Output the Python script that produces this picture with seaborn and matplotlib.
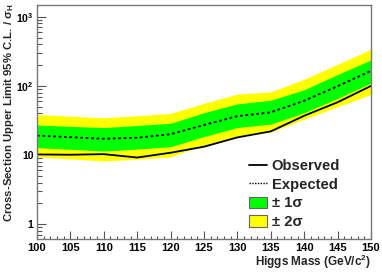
"""Higgs cross-section upper limit (95% C.L.) vs mass, Brazil-band plot."""

import matplotlib
matplotlib.use("Agg")
import matplotlib.pyplot as plt
import matplotlib.ticker as mticker
from matplotlib.lines import Line2D
from matplotlib.patches import Patch
import pandas as pd
import seaborn as sns

# values (cross-section / sigma_H)
mass = [100, 105, 110, 115, 120, 125, 130, 135, 140, 145, 150]
observed = [10.2, 10.1, 10.3, 9.2, 10.8, 13.2, 18.0, 22.0, 37.0, 58.0, 100.0]
expected = [19.1, 18.1, 17.2, 17.8, 20.0, 27.2, 36.5, 41.5, 61.0, 99.0, 165.0]
band1_lo = [12.8, 12.1, 11.4, 12.2, 13.2, 18.5, 25.0, 28.0, 41.0, 66.0, 110.0]
band1_hi = [27.2, 26.0, 24.9, 26.8, 28.8, 41.0, 55.0, 62.0, 88.0, 146.0, 238.0]
band2_lo = [9.4, 8.8, 8.2, 8.7, 9.4, 14.0, 18.5, 21.5, 33.0, 50.0, 75.0]
band2_hi = [38.5, 36.5, 34.5, 37.0, 40.0, 56.0, 76.0, 82.0, 125.0, 205.0, 340.0]

y_ticks = [1, 10, 100, 1000]
y_labels = ["1", "10", r"$10^{2}$", r"$10^{3}$"]

sns.set_theme(style="white")
plt.rcParams["font.family"] = ["Liberation Sans", "DejaVu Sans"]
plt.rcParams["font.weight"] = "bold"
plt.rcParams["mathtext.fontset"] = "custom"
plt.rcParams["mathtext.rm"] = "Liberation Sans:bold"
plt.rcParams["mathtext.it"] = "Liberation Sans:bold"
plt.rcParams["mathtext.default"] = "regular"

df = pd.DataFrame({"mass": mass, "observed": observed, "expected": expected})

fig = plt.figure(figsize=(3.82, 2.73), dpi=100)
ax = fig.add_axes([37 / 382, 34 / 273, 334 / 382, 234 / 273])

ax.fill_between(mass, band2_lo, band2_hi, color="#ffff00", lw=0)
ax.fill_between(mass, band1_lo, band1_hi, color="#00ff00", lw=0)
sns.lineplot(data=df, x="mass", y="expected", ax=ax, color="black",
             lw=1.3, linestyle=(0, (1.5, 1.5)))
sns.lineplot(data=df, x="mass", y="observed", ax=ax, color="black", lw=1.3)

ax.set_yscale("log")
ax.set_xlim(100, 150)
ax.set_ylim(0.61, 1480)
ax.set_xlabel("")
ax.set_ylabel("")

ax.xaxis.set_major_locator(mticker.MultipleLocator(5))
ax.xaxis.set_minor_locator(mticker.MultipleLocator(1))
ax.set_yticks(y_ticks)
ax.set_yticklabels(y_labels)
ax.yaxis.set_minor_locator(mticker.LogLocator(base=10, subs=range(2, 10)))
ax.yaxis.set_minor_formatter(mticker.NullFormatter())

ax.tick_params(axis="both", which="both", direction="in", colors="#555555",
               labelcolor="black", pad=3, width=0.8,
               bottom=True, left=True, top=False, right=False)
ax.tick_params(axis="x", which="major", length=5.5, labelsize=8)
ax.tick_params(axis="x", which="minor", length=2.5)
ax.tick_params(axis="y", which="major", length=6.5, labelsize=7.5, pad=2.5)
ax.tick_params(axis="y", which="minor", length=3.3)
for lab in ax.get_xticklabels() + ax.get_yticklabels():
    lab.set_fontweight("bold")

for sp in ax.spines.values():
    sp.set_color("#777777")
    sp.set_linewidth(1.0)

fig.text(2 / 382, 1 - 3 / 273, r"Cross-Section Upper Limit 95% C.L. / $\sigma_{H}$",
         rotation=90, ha="left", va="top", fontsize=8.2, fontweight="bold")
fig.text(371 / 382, 1 - 262 / 273, r"Higgs Mass (GeV/c$^{2}$)",
         ha="right", va="center", fontsize=8.5, fontweight="bold")

handles = [
    Line2D([], [], color="black", lw=1.3),
    Line2D([], [], color="black", lw=1.0, linestyle=(0, (1, 1))),
    Patch(facecolor="#00ff00", edgecolor="#666666", lw=0.8),
    Patch(facecolor="#ffff00", edgecolor="#666666", lw=0.8),
]
labels = ["Observed", "Expected", "± 1σ", "± 2σ"]
leg = ax.legend(handles, labels, loc="upper left",
                bbox_to_anchor=(249 / 382, 1 - 159 / 273),
                bbox_transform=fig.transFigure, frameon=False,
                prop={"size": 10.6, "weight": "bold"}, borderpad=0,
                borderaxespad=0, handlelength=1.25, handleheight=0.8,
                handletextpad=0.3, labelspacing=0.32)

fig.savefig("out.png", dpi=100)
